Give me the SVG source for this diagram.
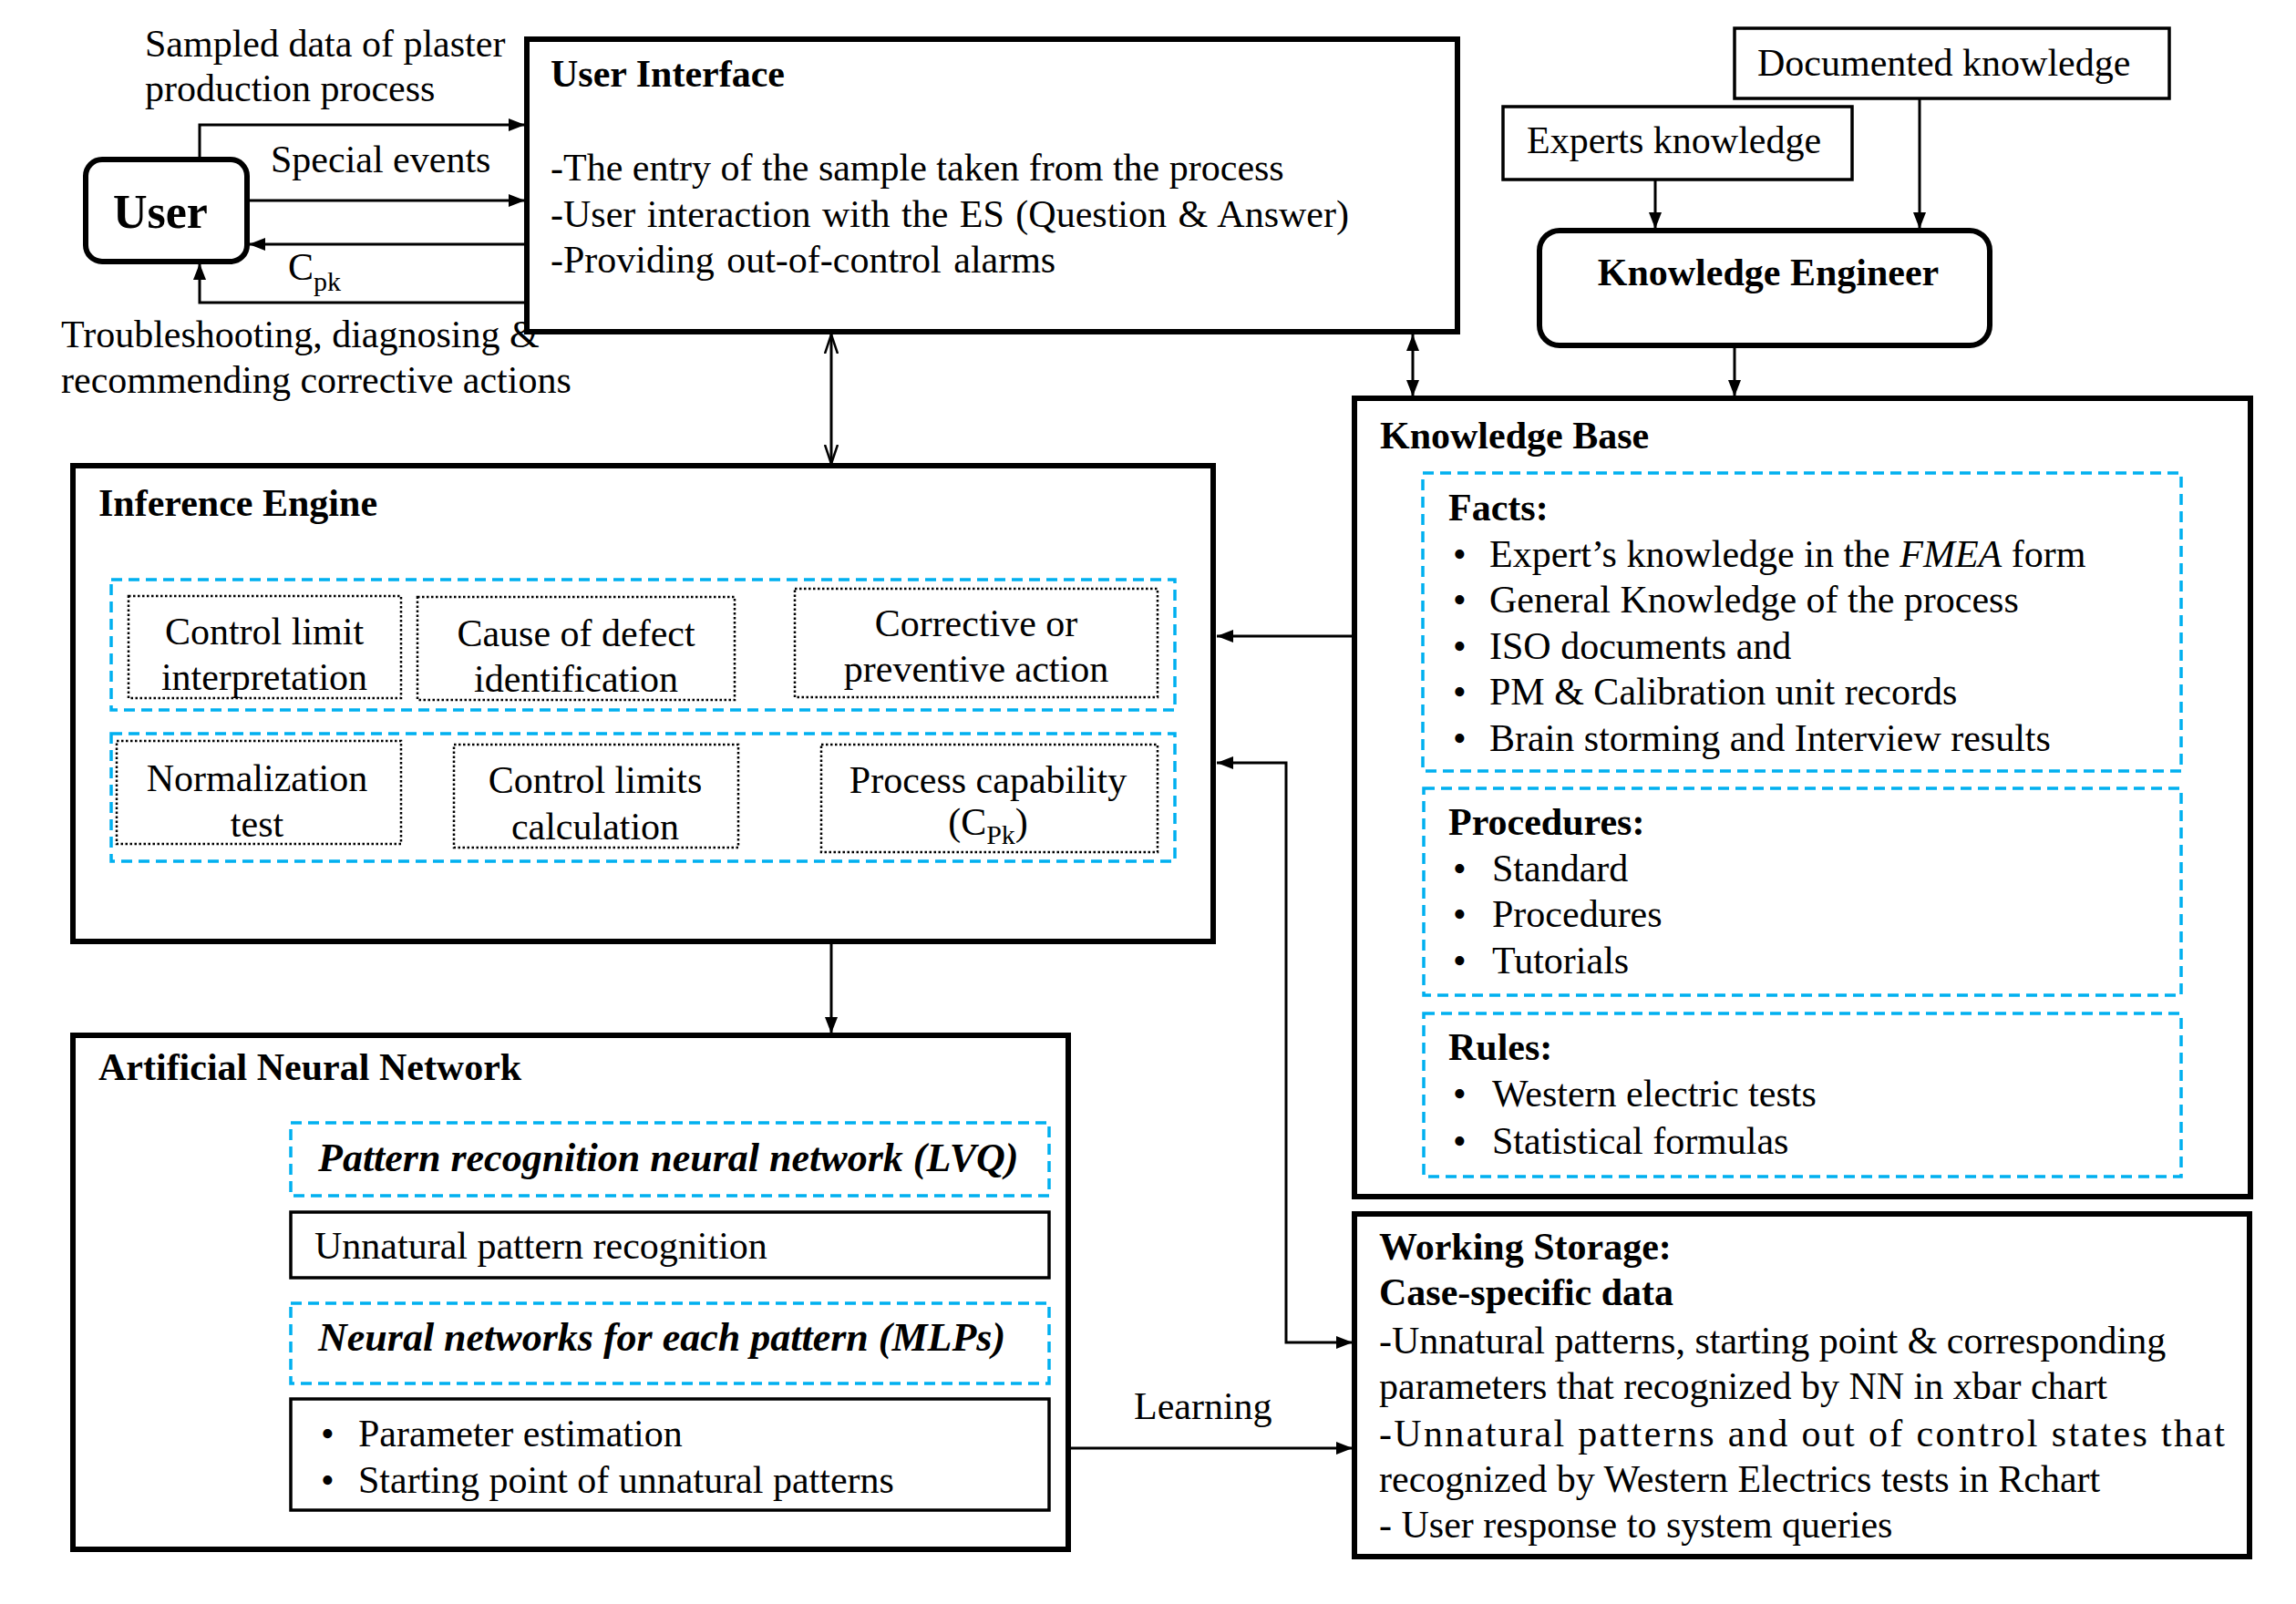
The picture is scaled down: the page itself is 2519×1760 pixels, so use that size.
<svg xmlns="http://www.w3.org/2000/svg" width="2519" height="1760" viewBox="0 0 2519 1760">
<style>
.t{font-family:"Liberation Serif","Times New Roman",serif;font-size:42px;fill:#000}
.b{font-weight:bold}
.bi{font-weight:bold;font-style:italic;font-size:44px}
.big{font-size:52px}
.m{text-anchor:middle}
.box{fill:#fff;stroke:#000;stroke-width:6}
.thin{fill:#fff;stroke:#000;stroke-width:3.5}
.cyan{fill:none;stroke:#00B0F0;stroke-width:3.5;stroke-dasharray:12 7}
.dot{fill:none;stroke:#000;stroke-width:2.5;stroke-dasharray:2.5 2.5}
.ln{fill:none;stroke:#000;stroke-width:3}
</style>
<defs>
<marker id="ah" viewBox="0 0 18 14" refX="18" refY="7" markerWidth="18" markerHeight="14" markerUnits="userSpaceOnUse" orient="auto-start-reverse"><path d="M0,0 L18,7 L0,14 z" fill="#000"/></marker>
<marker id="ahs" viewBox="0 0 14 12" refX="14" refY="6" markerWidth="14" markerHeight="12" markerUnits="userSpaceOnUse" orient="auto-start-reverse"><path d="M0,0 L14,6 L0,12 z" fill="#000"/></marker>
<marker id="open" viewBox="0 0 22 16" refX="21" refY="8" markerWidth="22" markerHeight="16" markerUnits="userSpaceOnUse" orient="auto-start-reverse"><path d="M0,1 L21,8 L0,15" fill="none" stroke="#000" stroke-width="2.5"/></marker>
</defs>

<g id="connectors">
<path class="ln" d="M219,175 V137 H576" marker-end="url(#ah)"/>
<path class="ln" d="M271,220 H576" marker-end="url(#ah)"/>
<path class="ln" d="M578,268 H273" marker-end="url(#ah)"/>
<path class="ln" d="M578,332 H219 V289" marker-end="url(#ah)"/>
<path class="ln" d="M912,367 V509" marker-start="url(#open)" marker-end="url(#open)"/>
<path class="ln" d="M1550,367 V435" marker-start="url(#ah)" marker-end="url(#ah)"/>
<path class="ln" d="M1816,197 V251" marker-end="url(#ah)"/>
<path class="ln" d="M2106,108 V251" marker-end="url(#ah)"/>
<path class="ln" d="M1903,379 V435" marker-end="url(#ah)"/>
<path class="ln" d="M1486,698 H1335" marker-end="url(#ah)"/>
<path class="ln" d="M1335,837 H1411 V1473 H1484" marker-start="url(#ah)" marker-end="url(#ah)"/>
<path class="ln" d="M912,1033 V1134" marker-end="url(#ah)"/>
<path class="ln" d="M1172,1589 H1484" marker-end="url(#ah)"/>
<path class="ln" d="M321,1385 H260 V1582 H317" marker-end="url(#ah)"/>
<path class="dot" d="M440,712 H458"/>
<path class="dot" d="M806,709 H870" marker-end="url(#ahs)"/>
<path class="dot" d="M440,873 H496" marker-end="url(#ahs)"/>
<path class="dot" d="M810,872 H899" marker-end="url(#ahs)"/>
</g>

<g id="labels">
<text class="t" x="159" y="62">Sampled data of plaster</text>
<text class="t" x="159" y="111">production process</text>
<text class="t" x="297" y="189">Special events</text>
<text class="t" x="316" y="307">C<tspan font-size="30" dy="12">pk</tspan></text>
<text class="t" x="67" y="381">Troubleshooting, diagnosing &amp;</text>
<text class="t" x="67" y="431">recommending corrective actions</text>
<text class="t" x="1244" y="1557">Learning</text>
</g>

<g id="user">
<rect class="box" x="94" y="175" width="177" height="112" rx="18"/>
<text class="t b big" x="124" y="250">User</text>
</g>

<g id="user-interface">
<rect class="box" x="578" y="43" width="1021" height="321"/>
<text class="t b" x="604" y="95">User Interface</text>
<text class="t" x="604" y="198">-The entry of the sample taken from the process</text>
<text class="t" x="604" y="249" word-spacing="2">-User interaction with the ES (Question &amp; Answer)</text>
<text class="t" x="604" y="299" word-spacing="3">-Providing out-of-control alarms</text>
</g>

<g id="documented-knowledge">
<rect class="thin" x="1903" y="31" width="477" height="77"/>
<text class="t" x="1928" y="83">Documented knowledge</text>
</g>

<g id="experts-knowledge">
<rect class="thin" x="1649" y="117" width="383" height="80"/>
<text class="t" x="1675" y="168">Experts knowledge</text>
</g>

<g id="knowledge-engineer">
<rect class="box" x="1689" y="253" width="494" height="126" rx="22"/>
<text class="t b m" x="1940" y="313">Knowledge Engineer</text>
</g>

<g id="knowledge-base">
<rect class="box" x="1486" y="437" width="983" height="876"/>
<text class="t b" x="1514" y="492">Knowledge Base</text>
<rect class="cyan" x="1561" y="519" width="832" height="327"/>
<text class="t b" x="1589" y="571">Facts:</text>
<text class="t" x="1594" y="622">•</text><text class="t" x="1634" y="622">Expert’s knowledge in the <tspan font-style="italic">FMEA</tspan> form</text>
<text class="t" x="1594" y="672">•</text><text class="t" x="1634" y="672">General Knowledge of the process</text>
<text class="t" x="1594" y="723">•</text><text class="t" x="1634" y="723">ISO documents and</text>
<text class="t" x="1594" y="773">•</text><text class="t" x="1634" y="773">PM &amp; Calibration unit records</text>
<text class="t" x="1594" y="824">•</text><text class="t" x="1634" y="824">Brain storming and Interview results</text>
<rect class="cyan" x="1562" y="865" width="831" height="227"/>
<text class="t b" x="1589" y="916">Procedures:</text>
<text class="t" x="1594" y="967">•</text><text class="t" x="1637" y="967">Standard</text>
<text class="t" x="1594" y="1017">•</text><text class="t" x="1637" y="1017">Procedures</text>
<text class="t" x="1594" y="1068">•</text><text class="t" x="1637" y="1068">Tutorials</text>
<rect class="cyan" x="1562" y="1112" width="831" height="179"/>
<text class="t b" x="1589" y="1163">Rules:</text>
<text class="t" x="1594" y="1214">•</text><text class="t" x="1637" y="1214">Western electric tests</text>
<text class="t" x="1594" y="1266">•</text><text class="t" x="1637" y="1266">Statistical formulas</text>
</g>

<g id="working-storage">
<rect class="box" x="1486" y="1332" width="982" height="376"/>
<text class="t b" x="1513" y="1382">Working Storage:</text>
<text class="t b" x="1513" y="1432">Case-specific data</text>
<text class="t" x="1513" y="1485">-Unnatural patterns, starting point &amp; corresponding</text>
<text class="t" x="1513" y="1535">parameters that recognized by NN in xbar chart</text>
<text class="t" x="1513" y="1587" textLength="928" lengthAdjust="spacing">-Unnatural patterns and out of control states that</text>
<text class="t" x="1513" y="1637">recognized by Western Electrics tests in Rchart</text>
<text class="t" x="1513" y="1687">- User response to system queries</text>
</g>

<g id="inference-engine">
<rect class="box" x="80" y="511" width="1251" height="522"/>
<text class="t b" x="108" y="566">Inference Engine</text>
<rect class="cyan" x="122" y="636" width="1167" height="143"/>
<rect class="dot" x="141" y="654" width="299" height="112"/>
<text class="t m" x="290" y="707">Control limit</text>
<text class="t m" x="290" y="757">interpretation</text>
<rect class="dot" x="458" y="655" width="348" height="113"/>
<text class="t m" x="632" y="709">Cause of defect</text>
<text class="t m" x="632" y="759">identification</text>
<rect class="dot" x="872" y="646" width="398" height="119"/>
<text class="t m" x="1071" y="698">Corrective or</text>
<text class="t m" x="1071" y="748">preventive action</text>
<rect class="cyan" x="122" y="805" width="1167" height="140"/>
<rect class="dot" x="128" y="813" width="312" height="113"/>
<text class="t m" x="282" y="868">Normalization</text>
<text class="t m" x="282" y="918">test</text>
<rect class="dot" x="498" y="817" width="312" height="113"/>
<text class="t m" x="653" y="870">Control limits</text>
<text class="t m" x="653" y="921">calculation</text>
<rect class="dot" x="901" y="817" width="369" height="118"/>
<text class="t m" x="1084" y="870">Process capability</text>
<text class="t m" x="1084" y="916">(C<tspan font-size="30" dy="10">Pk</tspan><tspan dy="-10">)</tspan></text>
</g>

<g id="artificial-neural-network">
<rect class="box" x="80" y="1136" width="1092" height="564"/>
<text class="t b" x="108" y="1185">Artificial Neural Network</text>
<rect class="cyan" x="319" y="1232" width="832" height="80"/>
<text class="t bi" x="349" y="1285">Pattern recognition neural network (LVQ)</text>
<rect class="thin" x="319" y="1330" width="832" height="72"/>
<text class="t" x="345" y="1381">Unnatural pattern recognition</text>
<rect class="cyan" x="319" y="1430" width="832" height="88"/>
<text class="t bi" x="349" y="1482">Neural networks for each pattern (MLPs)</text>
<rect class="thin" x="319" y="1535" width="832" height="122"/>
<text class="t" x="352" y="1587">•</text><text class="t" x="393" y="1587">Parameter estimation</text>
<text class="t" x="352" y="1638">•</text><text class="t" x="393" y="1638">Starting point of unnatural patterns</text>
</g>
</svg>
